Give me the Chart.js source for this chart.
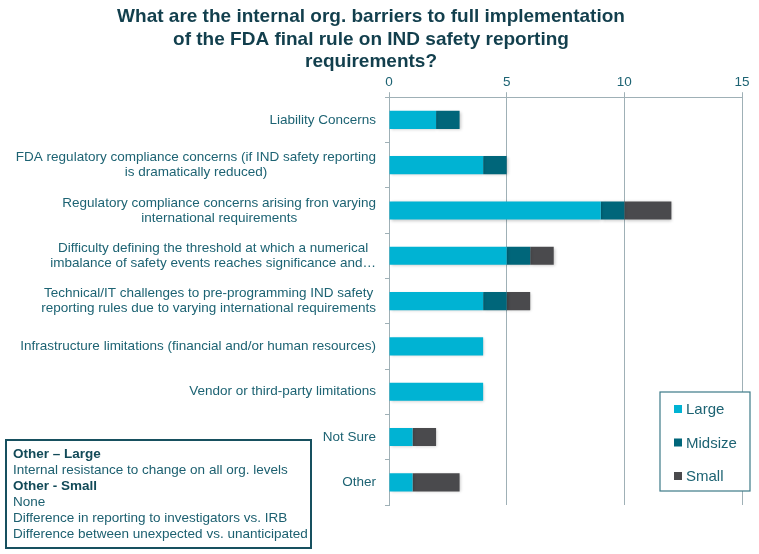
<!DOCTYPE html>
<html>
<head>
<meta charset="utf-8">
<script src="https://cdn.jsdelivr.net/npm/chart.js@4.4.1/dist/chart.umd.min.js"></script>
<style>
    html, body { margin: 0; padding: 0; background: #fff; }
    #wrap { position: relative; width: 759px; height: 554px; }
    #note {
        position: absolute; left: 5px; top: 439px; width: 303px; height: 106px;
        border: 2px solid #17505f;
        font: 13.5px "Liberation Sans", Arial, sans-serif; color: #1d6070;
        line-height: 16px;
    }
    #note div { padding-left: 6px; white-space: nowrap; }
    #note .b { font-weight: bold; color: #124a58; }
</style>
</head>
<body>
<div id="wrap">
    <canvas id="chart" width="759" height="554"></canvas>
    <div id="note">
        <div class="b" style="margin-top:5px">Other – Large</div>
        <div>Internal resistance to change on all org. levels</div>
        <div class="b">Other - Small</div>
        <div>None</div>
        <div>Difference in reporting to investigators vs. IRB</div>
        <div>Difference between unexpected vs. unanticipated</div>
    </div>
</div>
<script>
const categories = [
    'Liability Concerns',
    ['FDA regulatory compliance concerns (if IND safety reporting', 'is dramatically reduced)'],
    ['Regulatory compliance concerns arising fron varying', 'international requirements'],
    ['Difficulty defining the threshold at which a numerical', 'imbalance of safety events reaches significance and\u2026'],
    ['Technical/IT challenges to pre-programming IND safety', 'reporting rules due to varying international requirements'],
    'Infrastructure limitations (financial and/or human resources)',
    'Vendor or third-party limitations',
    'Not Sure',
    'Other'
];
const large   = [2, 4, 9, 5, 4, 4, 4, 1, 1];
const midsize = [1, 1, 1, 1, 1, 0, 0, 0, 0];
const small   = [0, 0, 2, 1, 1, 0, 0, 1, 2];

const textColor = '#1d6373';
const gridColor = '#9fb0b6';
const labelFont = '13.5px "Liberation Sans", Arial, sans-serif';

// category labels: each block right aligned, its lines centred on each other
const catLabels = {
    id: 'catLabels',
    afterDraw(chart) {
        const ctx = chart.ctx;
        const yScale = chart.scales.y;
        const right = yScale.right - 13;
        ctx.save();
        ctx.font = labelFont;
        ctx.fillStyle = textColor;
        ctx.textAlign = 'center';
        ctx.textBaseline = 'middle';
        chart.data.labels.forEach((lab, i) => {
            const lines = Array.isArray(lab) ? lab : [lab];
            const w = Math.max(...lines.map(l => ctx.measureText(l).width));
            const cx = right - w / 2;
            const cy = yScale.getPixelForValue(i);
            const lh = 15;
            lines.forEach((l, j) => {
                ctx.fillText(l, cx, cy + (j - (lines.length - 1) / 2) * lh);
            });
        });
        ctx.restore();
    }
};

// soft shadow under the bars
const barShadow = {
    id: 'barShadow',
    beforeDatasetsDraw(chart) {
        const ctx = chart.ctx;
        ctx.save();
        ctx.shadowColor = 'rgba(0,0,0,0.22)';
        ctx.shadowBlur = 3;
        ctx.shadowOffsetX = 1;
        ctx.shadowOffsetY = 1;
    },
    afterDatasetsDraw(chart) {
        chart.ctx.restore();
    }
};

// legend box drawn by hand so it can sit in the lower right of the plot
const boxLegend = {
    id: 'boxLegend',
    afterDraw(chart) {
        const ctx = chart.ctx;
        const x0 = 660, y0 = 392, w = 90, h = 99;
        ctx.save();
        ctx.fillStyle = '#fff';
        ctx.fillRect(x0, y0, w, h);
        ctx.strokeStyle = '#3d7a88';
        ctx.lineWidth = 1.2;
        ctx.strokeRect(x0, y0, w, h);
        ctx.font = '15px "Liberation Sans", Arial, sans-serif';
        ctx.textBaseline = 'middle';
        chart.data.datasets.forEach((ds, i) => {
            const cy = y0 + 17 + i * 33.5;
            ctx.fillStyle = ds.backgroundColor;
            ctx.fillRect(x0 + 14, cy - 4, 8, 8);
            ctx.fillStyle = textColor;
            ctx.fillText(ds.label, x0 + 26, cy + 1);
        });
        ctx.restore();
    }
};

new Chart(document.getElementById('chart').getContext('2d'), {
    type: 'bar',
    data: {
        labels: categories,
        datasets: [
            { label: 'Large', data: large, backgroundColor: '#00b3d3' },
            { label: 'Midsize', data: midsize, backgroundColor: '#00667a' },
            { label: 'Small', data: small, backgroundColor: '#4a4a4d' }
        ]
    },
    options: {
        indexAxis: 'y',
        responsive: false,
        animation: false,
        barPercentage: 0.4,
        categoryPercentage: 1,
        layout: { padding: { left: 0, right: 17, top: 0, bottom: 49 } },
        plugins: {
            legend: { display: false },
            tooltip: { enabled: false },
            title: {
                display: true,
                text: [
                    'What are the internal org. barriers to full implementation',
                    'of the FDA final rule on IND safety reporting',
                    'requirements?'
                ],
                color: '#123f4d',
                font: { family: '"Liberation Sans", Arial, sans-serif', size: 19, weight: 'bold', lineHeight: 1.17 },
                padding: { top: 6, bottom: 0 }
            }
        },
        scales: {
            x: {
                position: 'top',
                stacked: true,
                min: 0,
                max: 15,
                ticks: {
                    stepSize: 5,
                    color: textColor,
                    padding: 2,
                    font: { family: '"Liberation Sans", Arial, sans-serif', size: 13.5 }
                },
                grid: { color: gridColor, tickLength: 5, lineWidth: 1 },
                border: { color: gridColor },
                afterFit: s => { s.height = 24.5; }
            },
            y: {
                stacked: true,
                ticks: { color: 'rgba(0,0,0,0)', padding: 9, font: { size: 13 } },
                grid: { offset: true, drawOnChartArea: false, color: gridColor, tickLength: 4 },
                border: { color: gridColor },
                afterFit: s => { s.width = 389; }
            }
        }
    },
    plugins: [barShadow, catLabels, boxLegend]
});
</script>
</body>
</html>
